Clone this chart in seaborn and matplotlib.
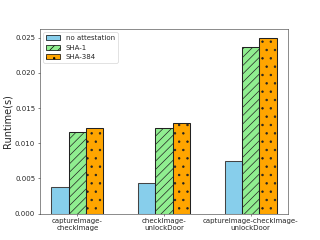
import matplotlib
matplotlib.use("Agg")
import matplotlib.pyplot as plt
import seaborn as sns
import pandas as pd
from matplotlib.patches import Patch

categories = ["captureImage-\ncheckImage", "checkImage-\nunlockDoor", "captureImage-checkImage-\nunlockDoor"]
series_names = ["no attestation", "SHA-1", "SHA-384"]
no_attestation = [0.0038, 0.0044, 0.0075]
sha1 = [0.0116, 0.0121, 0.0236]
sha384 = [0.0122, 0.0129, 0.0250]

colors = ["#87CEEB", "#90EE90", "#FFA500"]
hatches = ["", "//", "."]

rows = []
for name, vals in zip(series_names, [no_attestation, sha1, sha384]):
    for c, v in zip(categories, vals):
        rows.append({"scenario": c, "series": name, "runtime": v})
df = pd.DataFrame(rows)

sns.set_style("ticks")
plt.rcParams["font.family"] = ["DejaVu Sans"]
fig, ax = plt.subplots(figsize=(6.4, 4.8), dpi=50)
sns.barplot(data=df, x="scenario", y="runtime", hue="series", order=categories,
            hue_order=series_names, palette=colors, saturation=1, width=0.6, gap=0,
            edgecolor="black", linewidth=1.5, errorbar=None, legend=False, ax=ax)

n = len(categories)
for i, p in enumerate(ax.patches[:n * len(series_names)]):
    h = hatches[i // n]
    p.set_hatch(h)
    p.set_edgecolor("#222222" if h else "#444444")

ax.set_xlim(-0.43, 2.43)
ax.set_ylim(0, 0.02625)
ax.set_xlabel("")
ax.set_ylabel("Runtime(s)", fontsize=14)
ax.tick_params(labelsize=10)
for s in ["top", "right"]:
    ax.spines[s].set_visible(True)
for s in ax.spines.values():
    s.set_color("#333333")

handles = [Patch(facecolor=c, edgecolor="black", hatch=h, label=l)
           for c, h, l in zip(colors, hatches, series_names)]
ax.legend(handles=handles, loc="upper left", fontsize=10)

fig.subplots_adjust(left=0.125, right=0.9, top=0.88, bottom=0.11)
fig.savefig("out.png", dpi=50)
